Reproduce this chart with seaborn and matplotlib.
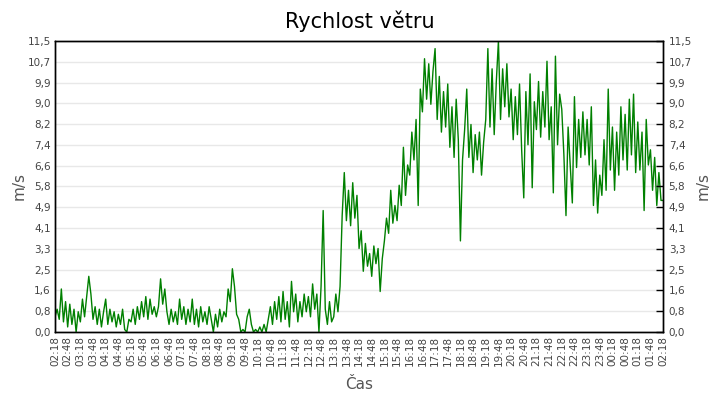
import numpy as np
import pandas as pd
import matplotlib
matplotlib.use("Agg")
import matplotlib.pyplot as plt
import seaborn as sns

# 5-minute wind speed readings (m/s), from 02:18 to 02:18 the next day
h00 = [0.6, 0.9, 0.5, 1.7, 0.4, 1.2, 0.2, 1.1, 0.3, 0.9, 0.0, 0.8]
h01 = [0.4, 1.3, 0.6, 1.4, 2.2, 1.5, 0.5, 1.0, 0.3, 0.9, 0.2, 0.8]
h02 = [1.3, 0.3, 0.9, 0.4, 0.8, 0.2, 0.7, 0.3, 0.9, 0.1, 0.0, 0.5]
h03 = [0.4, 0.9, 0.3, 1.0, 0.5, 1.2, 0.6, 1.4, 0.5, 1.3, 0.7, 1.0]
h04 = [0.6, 1.0, 2.1, 1.1, 1.7, 0.8, 0.3, 0.9, 0.4, 0.8, 0.3, 1.3]
h05 = [0.5, 1.0, 0.3, 0.9, 0.4, 1.3, 0.3, 0.9, 0.2, 1.0, 0.4, 0.8]
h06 = [0.3, 1.0, 0.5, 0.0, 0.7, 0.2, 0.9, 0.4, 0.8, 0.6, 1.7, 1.2]
h07 = [2.5, 1.8, 0.7, 0.5, 0.0, 0.1, 0.0, 0.6, 0.9, 0.3, 0.0, 0.1]
h08 = [0.0, 0.2, 0.0, 0.3, 0.0, 0.5, 1.0, 0.3, 1.2, 0.5, 1.4, 0.4]
h09 = [1.6, 0.5, 1.2, 0.2, 2.0, 0.8, 1.5, 0.4, 1.2, 0.6, 1.5, 0.8]
h10 = [1.4, 0.6, 1.9, 0.9, 1.5, 0.0, 1.8, 4.8, 0.9, 0.3, 1.2, 0.4]
h11 = [0.6, 1.5, 0.8, 1.8, 4.6, 6.3, 4.4, 5.6, 4.2, 5.9, 4.5, 5.4]
h12 = [3.3, 4.0, 2.4, 3.5, 2.6, 3.1, 2.2, 3.4, 2.7, 3.3, 1.6, 2.9]
h13 = [3.6, 4.5, 3.9, 5.6, 4.3, 5.0, 4.4, 5.8, 5.0, 7.3, 5.4, 6.6]
h14 = [6.2, 7.9, 6.8, 8.4, 5.0, 9.6, 8.7, 10.8, 9.2, 10.6, 9.0, 10.3]
h15 = [11.2, 8.4, 10.1, 7.9, 9.5, 8.1, 9.8, 7.3, 8.9, 6.9, 9.2, 7.6]
h16 = [3.6, 6.8, 8.0, 9.6, 6.9, 8.2, 6.3, 7.8, 6.8, 7.9, 6.2, 7.5]
h17 = [8.4, 11.2, 8.1, 10.4, 7.8, 9.9, 11.5, 8.4, 10.4, 8.9, 10.6, 8.5]
h18 = [9.6, 7.6, 9.3, 7.8, 9.8, 7.2, 5.3, 9.5, 7.4, 10.2, 5.7, 9.1]
h19 = [8.0, 9.9, 7.7, 9.5, 8.1, 10.7, 7.6, 8.9, 5.5, 10.9, 7.4, 9.4]
h20 = [8.8, 7.0, 4.6, 8.1, 6.6, 5.1, 9.3, 6.5, 8.4, 6.9, 8.7, 7.0]
h21 = [8.4, 6.6, 8.9, 5.0, 6.8, 4.7, 6.2, 5.4, 7.6, 5.6, 9.6, 6.4]
h22 = [8.1, 5.6, 7.9, 6.2, 8.9, 6.8, 8.6, 6.4, 9.2, 7.0, 9.4, 6.3]
h23 = [8.3, 6.4, 7.9, 4.8, 8.4, 6.6, 7.2, 5.6, 6.9, 5.0, 6.3, 5.2]
last = [5.2]

speed = (h00 + h01 + h02 + h03 + h04 + h05 + h06 + h07 + h08 + h09 + h10 + h11 +
         h12 + h13 + h14 + h15 + h16 + h17 + h18 + h19 + h20 + h21 + h22 + h23 + last)
minutes = [5 * i for i in range(len(speed))]

x_tick_labels = ["02:18", "02:48", "03:18", "03:48", "04:18", "04:48", "05:18", "05:48",
                 "06:18", "06:48", "07:18", "07:48", "08:18", "08:48", "09:18", "09:48",
                 "10:18", "10:48", "11:18", "11:48", "12:18", "12:48", "13:18", "13:48",
                 "14:18", "14:48", "15:18", "15:48", "16:18", "16:48", "17:18", "17:48",
                 "18:18", "18:48", "19:18", "19:48", "20:18", "20:48", "21:18", "21:48",
                 "22:18", "22:48", "23:18", "23:48", "00:18", "00:48", "01:18", "01:48",
                 "02:18"]
y_tick_labels = ["0,0", "0,8", "1,6", "2,5", "3,3", "4,1", "4,9", "5,8", "6,6",
                 "7,4", "8,2", "9,0", "9,9", "10,7", "11,5"]
y_max = 11.5

df = pd.DataFrame({"t": minutes, "v": speed})

sns.set_theme(style="white")
plt.rcParams["font.family"] = ["DejaVu Sans"]

fig = plt.figure(figsize=(7.2, 4.0), dpi=100)
ax = fig.add_axes([0.0764, 0.17, 0.8446, 0.7275])

sns.lineplot(data=df, x="t", y="v", ax=ax, color="#008000", linewidth=1.0)

ax.set_xlim(0, 1440)
ax.set_ylim(0, y_max)
yt = np.linspace(0, y_max, len(y_tick_labels))
ax.set_yticks(yt)
ax.set_yticklabels(y_tick_labels)
ax.set_xticks(np.arange(0, 1441, 30))
ax.set_xticklabels(x_tick_labels, rotation=90)
ax.yaxis.grid(True, color="#e8e8e8", linewidth=1)
ax.xaxis.grid(False)
ax.set_axisbelow(True)

for s in ax.spines.values():
    s.set_color("black")
    s.set_linewidth(1)

ax.tick_params(axis="x", direction="in", length=4, width=1, color="black",
               labelsize=7.5, labelcolor="#444444", pad=3)
ax.tick_params(axis="y", direction="in", length=0, labelsize=7.5,
               labelcolor="#444444", pad=3)

ax2 = ax.twinx()
ax2.set_ylim(0, y_max)
ax2.set_yticks(yt)
ax2.set_yticklabels(y_tick_labels)
ax2.tick_params(axis="y", direction="in", length=5, width=1, color="black",
                labelsize=7.5, labelcolor="#444444", pad=4)
ax2.grid(False)
for s in ax2.spines.values():
    s.set_color("black")
    s.set_linewidth(1)

ax.set_xlabel("Čas", fontsize=11, color="#555555", labelpad=8)
ax.set_ylabel("m/s", fontsize=11, color="#555555", labelpad=1)
ax2.set_ylabel("m/s", fontsize=11, color="#555555", labelpad=3)
fig.suptitle("Rychlost větru", x=0.5, y=0.975, fontsize=15, color="black")

fig.savefig("out.png", dpi=100)
